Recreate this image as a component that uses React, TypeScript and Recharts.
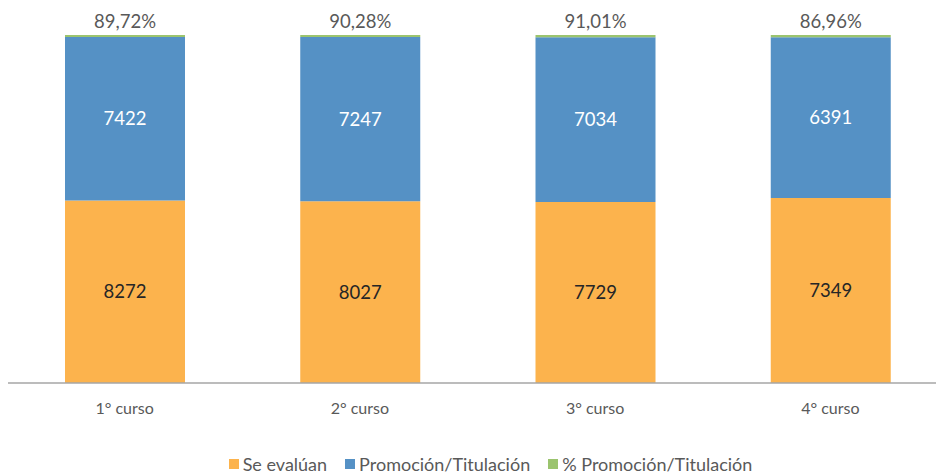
import React from 'react';
import { BarChart, Bar, XAxis, YAxis, Legend, LabelList } from 'recharts';

const cursos = ['1° curso', '2° curso', '3° curso', '4° curso'];
const seEvaluan = [8272, 8027, 7729, 7349];
const promocion = [7422, 7247, 7034, 6391];
const pctPromocion = [89.72, 90.28, 91.01, 86.96];

const colors = {
    evaluan: '#FCB34D',
    promocion: '#5591C5',
    pct: '#9BC46E',
};

const FONT = "'Lato', 'Open Sans', sans-serif";
const GRAY = '#595959';

const data = cursos.map((curso, i) => ({
    curso,
    evaluan: seEvaluan[i],
    promocion: promocion[i],
    pct: pctPromocion[i],
}));

const legendItems = [
    { label: 'Se evalúan', color: colors.evaluan },
    { label: 'Promoción/Titulación', color: colors.promocion },
    { label: '% Promoción/Titulación', color: colors.pct },
];

// legend drawn as plain html so the spacing follows the original
const ChartLegend = () => (
    <div style={{ display: 'flex', justifyContent: 'center', height: 26, alignItems: 'flex-end', paddingLeft: 26, fontFamily: FONT, fontSize: 18, color: GRAY }}>
        {legendItems.map(item => (
            <span key={item.label} style={{ display: 'flex', alignItems: 'center', margin: '0 9px' }}>
                <span style={{ width: 10, height: 10, background: item.color, display: 'inline-block', marginRight: 4 }} />
                {item.label}
            </span>
        ))}
    </div>
);

const App: React.FC = () => {
    return (
        <div style={{ width: 936, height: 467, overflow: 'hidden' }}>
            <div style={{ marginLeft: -1 }}>
                <BarChart
                    width={941}
                    height={467}
                    data={data}
                    stackOffset="expand"
                    barSize={120}
                    margin={{ top: 27, right: 0, bottom: 0, left: 0 }}
                >
                    <XAxis
                        dataKey="curso"
                        axisLine={{ stroke: '#A6A6A6', strokeWidth: 1.5 }}
                        tickLine={false}
                        tickMargin={14}
                        height={66}
                        tick={{ fill: GRAY, fontSize: 16, fontFamily: FONT }}
                    />
                    <YAxis hide domain={[0, 1]} />
                    <Legend verticalAlign="bottom" content={<ChartLegend />} />
                    <Bar dataKey="evaluan" stackId="a" fill={colors.evaluan} isAnimationActive={false}>
                        <LabelList dataKey="evaluan" position="center" fill="#262626" fontSize={18.5} fontFamily={FONT} />
                    </Bar>
                    <Bar dataKey="promocion" stackId="a" fill={colors.promocion} isAnimationActive={false}>
                        <LabelList dataKey="promocion" position="center" fill="#FFFFFF" fontSize={18.5} fontFamily={FONT} />
                    </Bar>
                    <Bar dataKey="pct" stackId="a" fill={colors.pct} isAnimationActive={false}>
                        <LabelList
                            dataKey="pct"
                            position="top"
                            offset={7}
                            fill={GRAY}
                            fontSize={18.5}
                            fontFamily={FONT}
                            formatter={(v: number) => v.toFixed(2).replace('.', ',') + '%'}
                        />
                    </Bar>
                </BarChart>
            </div>
        </div>
    );
};

export default App;
